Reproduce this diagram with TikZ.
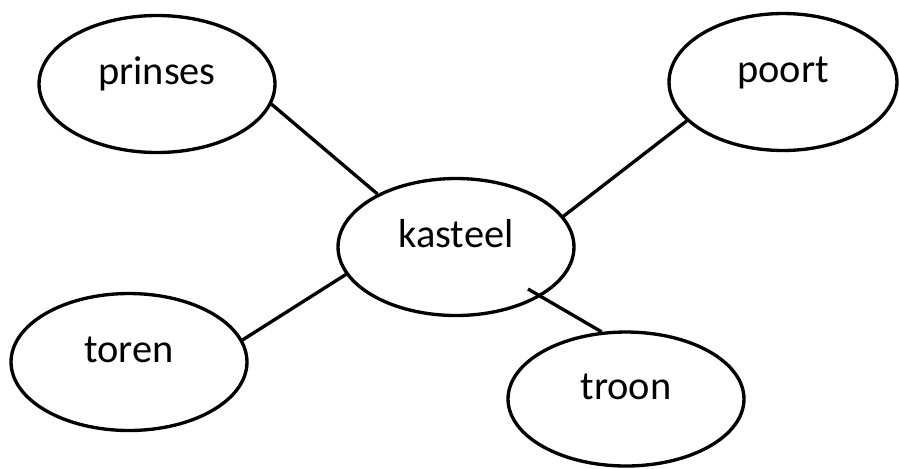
\documentclass[tikz,border=0pt]{standalone}
\usepackage{fontspec}
\setmainfont{Carlito}
\usetikzlibrary{shapes.geometric}
\begin{document}
\begin{tikzpicture}[x=0.02cm, y=-0.02cm]
    % Stili
    \tikzstyle{bubble}=[draw, ellipse, line width=1.9pt, minimum width=4.72cm, minimum height=2.74cm, inner sep=0pt, text height=0.4cm, text depth=0.4cm, font=\fontsize{23}{28}\selectfont]
    \tikzstyle{link}=[line width=1.9pt]

    \useasboundingbox (0,0) rectangle (899,468);

    % Concetto centrale
    \node[bubble] (kasteel) at (456,247) {kasteel};

    % Concetti attorno
    \node[bubble] (prinses) at (157,84) {prinses};
    \node[bubble, minimum width=4.56cm] (poort) at (783,82) {poort};
    \node[bubble] (toren) at (129,362) {toren};
    \node[bubble, minimum height=2.68cm] (troon) at (626,399) {troon};

    % Collegamenti
    \draw[link] (prinses.-10) -- (kasteel.146);
    \draw[link] (poort.202) -- (kasteel.16);
    \draw[link] (toren.11) -- (kasteel.194);
    \coordinate (troon_end) at (528,289);
    \draw[link] (troon.110) -- (troon_end);
\end{tikzpicture}
\end{document}
